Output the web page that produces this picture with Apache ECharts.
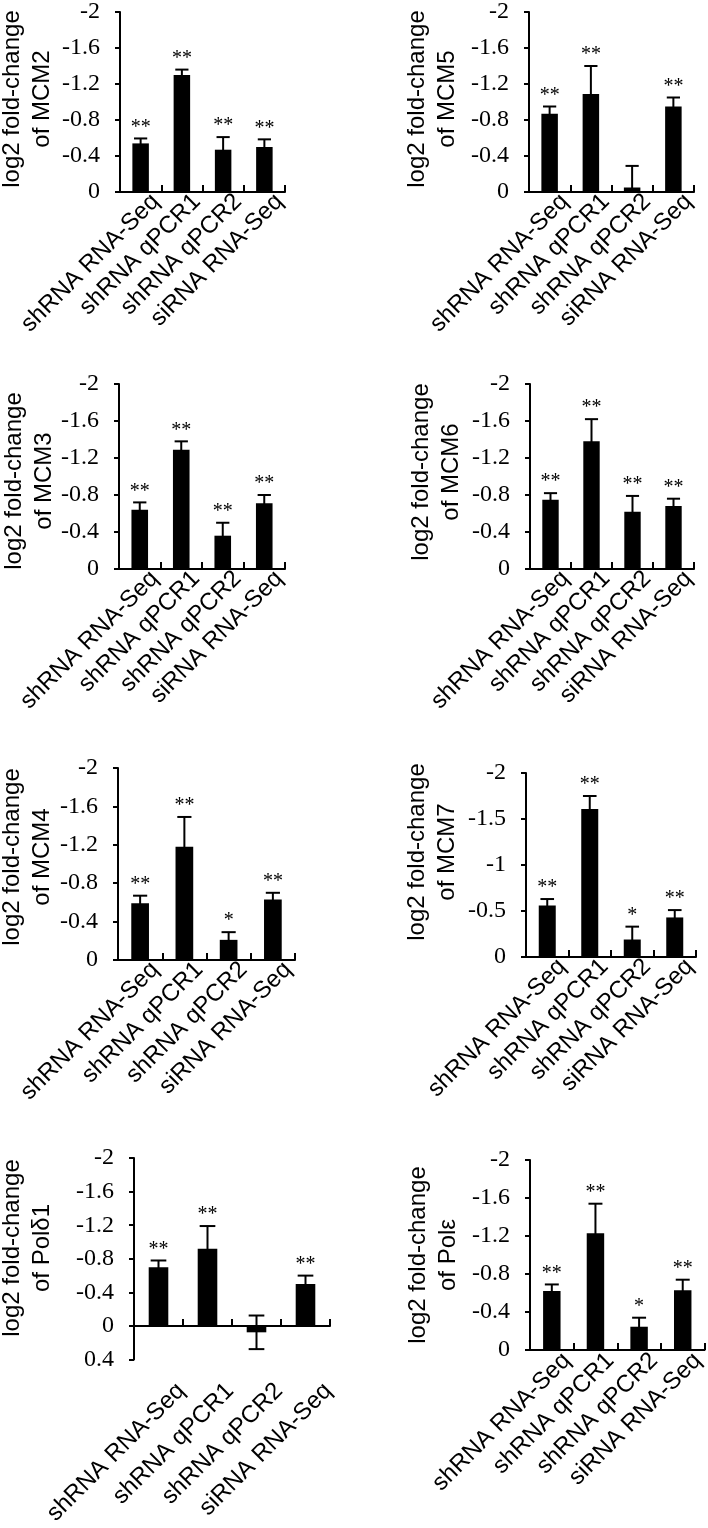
<!DOCTYPE html>
<html>
<head>
<meta charset="utf-8">
<script src="https://cdn.jsdelivr.net/npm/echarts@6/dist/echarts.min.js"></script>
<style>
html,body{margin:0;padding:0;background:#fff;}
#chart{width:708px;height:1528px;}
</style>
</head>
<body>
<div id="chart"></div>
<script>
// ---------- DATA ----------
const categories = ['shRNA RNA-Seq', 'shRNA qPCR1', 'shRNA qPCR2', 'siRNA RNA-Seq'];

const ticksStd = [-2, -1.6, -1.2, -0.8, -0.4, 0];
const ticksMCM7 = [-2, -1.5, -1, -0.5, 0];
const ticksPold1 = [-2, -1.6, -1.2, -0.8, -0.4, 0, 0.4];

const mcm2Mean = [-0.54, -1.30, -0.47, -0.50];
const mcm2Err  = [0.055, 0.06, 0.14, 0.085];
const mcm2Sig  = ['**', '**', '**', '**'];

const mcm5Mean = [-0.87, -1.09, -0.05, -0.95];
const mcm5Err  = [0.08, 0.31, 0.24, 0.10];
const mcm5Sig  = ['**', '**', '', '**'];

const mcm3Mean = [-0.64, -1.29, -0.36, -0.71];
const mcm3Err  = [0.08, 0.09, 0.14, 0.09];
const mcm3Sig  = ['**', '**', '**', '**'];

const mcm6Mean = [-0.75, -1.38, -0.62, -0.68];
const mcm6Err  = [0.07, 0.24, 0.17, 0.08];
const mcm6Sig  = ['**', '**', '**', '**'];

const mcm4Mean = [-0.59, -1.18, -0.21, -0.63];
const mcm4Err  = [0.08, 0.31, 0.08, 0.07];
const mcm4Sig  = ['**', '**', '*', '**'];

const mcm7Mean = [-0.56, -1.61, -0.19, -0.43];
const mcm7Err  = [0.07, 0.14, 0.14, 0.08];
const mcm7Sig  = ['**', '**', '*', '**'];

const pold1Mean = [-0.70, -0.92, 0.075, -0.50];
const pold1Err  = [0.08, 0.27, 0.20, 0.10];
const pold1Sig  = ['**', '**', '', '**'];

const poleMean = [-0.62, -1.23, -0.245, -0.63];
const poleErr  = [0.07, 0.31, 0.095, 0.11];
const poleSig  = ['**', '**', '*', '**'];

const panels = [
  {gene: 'MCM2',  mean: mcm2Mean,  err: mcm2Err,  sig: mcm2Sig,  ticks: ticksStd},
  {gene: 'MCM5',  mean: mcm5Mean,  err: mcm5Err,  sig: mcm5Sig,  ticks: ticksStd},
  {gene: 'MCM3',  mean: mcm3Mean,  err: mcm3Err,  sig: mcm3Sig,  ticks: ticksStd},
  {gene: 'MCM6',  mean: mcm6Mean,  err: mcm6Err,  sig: mcm6Sig,  ticks: ticksStd},
  {gene: 'MCM4',  mean: mcm4Mean,  err: mcm4Err,  sig: mcm4Sig,  ticks: ticksStd},
  {gene: 'MCM7',  mean: mcm7Mean,  err: mcm7Err,  sig: mcm7Sig,  ticks: ticksMCM7},
  {gene: 'Polδ1', mean: pold1Mean, err: pold1Err, sig: pold1Sig, ticks: ticksPold1},
  {gene: 'Polε',  mean: poleMean,  err: poleErr,  sig: poleSig,  ticks: ticksStd}
];

// ---------- LAYOUT ----------
// lm: x-label margin, lp: perpendicular padding of the rotated x labels
const layout = [
  {left: 120, top: 7,    width: 165, height: 185, tx: 27.5,  ty: 99,   lm: -9, lp: 9},
  {left: 529, top: 7,    width: 165, height: 185, tx: 432,   ty: 99,   lm: -9, lp: 9},
  {left: 119, top: 384,  width: 166, height: 185, tx: 29,    ty: 481,  lm: -9, lp: 9},
  {left: 530, top: 384,  width: 164, height: 185, tx: 436.5, ty: 472,  lm: -9, lp: 9},
  {left: 118, top: 768,  width: 177, height: 192, tx: 27.5,  ty: 857,  lm: -9, lp: 9},
  {left: 526, top: 773,  width: 170, height: 184, tx: 432.5, ty: 852,  lm: -9, lp: 9},
  {left: 134, top: 1158, width: 196, height: 247, tx: 27.5,  ty: 1248, lm: 5,  lp: 20},
  {left: 530, top: 1160, width: 176, height: 190, tx: 433.5, ty: 1255, lm: -8, lp: 9}
];

const SERIF = 'Liberation Serif';
const SANS = 'Liberation Sans';

const grids = [], xAxes = [], yAxes = [], series = [], graphics = [];

panels.forEach((p, i) => {
  const L = layout[i];
  const ymin = p.ticks[0], ymax = p.ticks[p.ticks.length - 1];
  const interval = +(p.ticks[1] - p.ticks[0]).toFixed(6);
  grids.push({left: L.left, top: L.top, width: L.width, height: L.height, containLabel: false});
  xAxes.push({
    type: 'category', gridIndex: i, data: categories,
    axisLine: {show: true, onZero: true, lineStyle: {color: '#000', width: 2}},
    axisTick: {show: true, inside: true, length: 7, lineStyle: {color: '#000', width: 2}},
    axisLabel: {rotate: 45, margin: L.lm, color: '#000', fontFamily: SANS, fontSize: 24, interval: 0,
      verticalAlign: 'top', align: 'right', padding: [L.lp, 0, 0, 0]},
    splitLine: {show: false}
  });
  yAxes.push({
    type: 'value', gridIndex: i, inverse: true, min: ymin, max: ymax, interval: interval,
    axisLine: {show: true, lineStyle: {color: '#000', width: 2}},
    axisTick: {show: true, inside: false, length: 5, lineStyle: {color: '#000', width: 2}},
    axisLabel: {margin: 20, color: '#000', fontFamily: SERIF, fontSize: 24},
    splitLine: {show: false}
  });
  series.push({
    type: 'bar', xAxisIndex: i, yAxisIndex: i, data: p.mean,
    barWidth: '40%', itemStyle: {color: '#000'}, silent: true, animation: false
  });
  // error bars + significance marks
  series.push({
    type: 'custom', xAxisIndex: i, yAxisIndex: i, animation: false, silent: true, clip: false,
    data: p.mean.map((m, k) => [k, m, p.err[k]]),
    renderItem: function (params, api) {
      const k = api.value(0), m = api.value(1), e = api.value(2);
      const lo = m - e, hi = m + e;
      const a = Math.max(ymin, lo), b = Math.min(ymax, hi);
      const pa = api.coord([k, a]), pb = api.coord([k, b]);
      const band = api.size([1, 0])[0];
      const cw = band * 0.16;
      const st = {stroke: '#000', lineWidth: 2};
      const children = [
        {type: 'line', shape: {x1: pa[0], y1: pa[1], x2: pb[0], y2: pb[1]}, style: st}
      ];
      if (lo >= ymin) children.push({type: 'line', shape: {x1: pa[0] - cw, y1: pa[1], x2: pa[0] + cw, y2: pa[1]}, style: st});
      if (hi <= ymax) children.push({type: 'line', shape: {x1: pb[0] - cw, y1: pb[1], x2: pb[0] + cw, y2: pb[1]}, style: st});
      const s = p.sig[params.dataIndex];
      if (s) {
        const topPt = api.coord([k, Math.min(lo, hi)]);
        children.push({type: 'text', x: topPt[0], y: topPt[1] - 1,
          style: {text: s, fill: '#000', fontFamily: SERIF, fontSize: 20, align: 'center', verticalAlign: 'bottom'}});
      }
      return {type: 'group', children: children};
    }
  });
  graphics.push({
    type: 'text', x: L.tx, y: L.ty, rotation: Math.PI / 2,
    style: {text: 'log2 fold-change\nof ' + p.gene, fill: '#000', fontFamily: SANS, fontSize: 24,
      align: 'center', verticalAlign: 'middle', lineHeight: 30}
  });
});

const chart = echarts.init(document.getElementById('chart'), null, {renderer: 'canvas', devicePixelRatio: 1});
chart.setOption({
  animation: false,
  backgroundColor: '#fff',
  grid: grids, xAxis: xAxes, yAxis: yAxes, series: series, graphic: graphics
});
</script>
</body>
</html>
